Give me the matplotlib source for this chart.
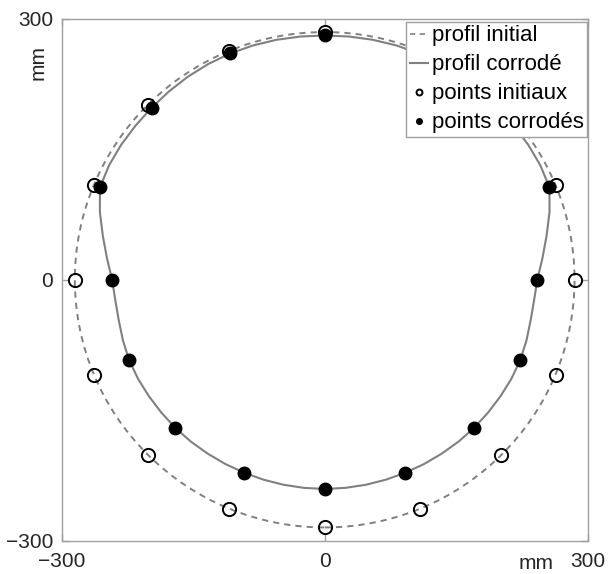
import numpy as np
import matplotlib
matplotlib.use('Agg')
from matplotlib import pyplot as plt
from matplotlib.patches import Circle

plt.rcParams['font.family'] = ['Liberation Sans', 'DejaVu Sans']

# points de mesure : angle depuis le haut (deg), rayon (mm)
pt_angle = [0, 22.5, 45, 67.5, 90, 112.5, 135, 157.5,
            180, 202.5, 225, 247.5, 270, 292.5, 315, 337.5]
r_initial = [285] * 16
r_corrode = [281.7, 281.8, 279, 277.5, 242.5, 241.5, 241, 240.3,
             240.7, 240.3, 241, 241.5, 242.5, 277.5, 279, 281.8]

# rayon du profil initial
R_INIT = 285

# profil corrode, tous les 5.625 deg
prof_angle = list(np.arange(0, 360.01, 5.625))
prof_r = [281, 281.2, 281.5, 281.7, 281.8, 281.5, 281, 280.2,
          279.5, 279.3, 279.3, 279, 277.5, 268, 258, 249.5,
          242.5, 240, 239.5, 240.5, 241.5, 241.5, 241.2, 241,
          241, 240.8, 240.5, 240.4, 240.3, 240.4, 240.5, 240.6,
          240.7,
          240.6, 240.5, 240.4, 240.3, 240.4, 240.5, 240.8, 241,
          241, 241.2, 241.5, 241.5, 240.5, 239.5, 240, 242.5,
          249.5, 258, 268, 277.5, 279, 279.3, 279.3, 279.5,
          280.2, 281, 281.5, 281.8, 281.7, 281.5, 281.2, 281]


def to_xy(ang, r):
    a = np.radians(ang)
    r = np.asarray(r, float)
    return r * np.sin(a), r * np.cos(a)


fig = plt.figure(figsize=(6.09, 5.74), dpi=100)
ax = fig.add_axes([61.7/609, (574-540.5)/574, 526/609, 521.5/574])

dash = (0, (3.2, 2.6))
ax.add_patch(Circle((0, 0), R_INIT, fill=False, ec='#808080', lw=1.4, ls=dash))
px, py = to_xy(prof_angle, prof_r)
ax.plot(px, py, color='#808080', lw=1.5)
xi, yi = to_xy(pt_angle, r_initial)
ax.plot(xi, yi, 'o', mfc='none', mec='k', ms=9.5, mew=1.4, ls='none')
xc, yc = to_xy(pt_angle, r_corrode)
ax.plot(xc, yc, 'o', mfc='k', mec='k', ms=9, ls='none')

# entrees de legende
h1, = ax.plot([], [], color='#808080', lw=1.2, ls=dash)
h2, = ax.plot([], [], color='#808080', lw=1.5)
h3, = ax.plot([], [], 'o', mfc='none', mec='k', ms=9.5, mew=1.4, ls='none')
h4, = ax.plot([], [], 'o', mfc='k', mec='k', ms=9, ls='none')
leg = ax.legend([h1, h2, h3, h4],
                ['profil initial', 'profil corrodé', 'points initiaux', 'points corrodés'],
                loc='upper right', bbox_to_anchor=(0.999, 0.994), fontsize=16,
                fancybox=False, framealpha=1, edgecolor='#a0a0a0',
                handlelength=0.8, handletextpad=0.2, borderpad=0.15,
                labelspacing=0.36, markerscale=0.45, borderaxespad=0)
leg.get_frame().set_linewidth(1.0)

ax.set_xlim(-300, 300)
ax.set_ylim(-300, 300)
ax.set_xticks([-300, 0, 300])
ax.set_yticks([-300, 0, 300])
ax.tick_params(direction='in', length=5, width=1, colors='#a0a0a0',
               labelcolor='#262626', labelsize=15, top=True, right=True)
ax.tick_params(axis='x', pad=8)
ax.tick_params(axis='y', pad=6)
for s in ax.spines.values():
    s.set_color('#a0a0a0')
    s.set_linewidth(1.0)

ax.text(0.901, -0.045, 'mm', transform=ax.transAxes, ha='center', va='center',
        fontsize=15, color='#262626')
ax.text(-0.045, 0.917, 'mm', transform=ax.transAxes, ha='center', va='center',
        fontsize=15, color='#262626', rotation=90)

fig.savefig('out.png', dpi=100)
